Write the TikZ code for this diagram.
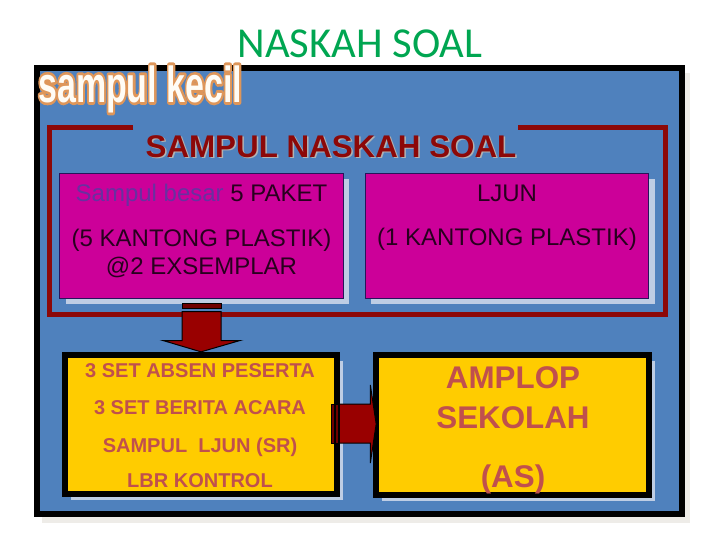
\documentclass[tikz,border=0pt]{standalone}
\usepackage{fontspec}
\setmainfont{Liberation Sans}
\newfontfamily\titlefont{Carlito}
\usetikzlibrary{calc,shadows}

\definecolor{titlegreen}{RGB}{0,166,81}
\definecolor{frameblue}{RGB}{79,129,189}
\definecolor{framegrey}{RGB}{238,236,232}
\definecolor{bracketred}{RGB}{140,8,8}
\definecolor{magfill}{RGB}{204,0,153}
\definecolor{magline}{RGB}{40,20,90}
\definecolor{shadowblue}{RGB}{190,205,228}
\definecolor{goldfill}{RGB}{255,204,0}
\definecolor{boxbrown}{RGB}{192,80,77}
\definecolor{boxdark}{RGB}{40,0,30}
\definecolor{besarpurple}{RGB}{105,48,160}
\definecolor{arrowred}{RGB}{153,0,0}
\definecolor{stripered}{RGB}{110,0,0}
\definecolor{kecilwhite}{RGB}{255,252,245}

% outlined word: thick stroke under, plain fill over
\newcommand{\kecilfont}{\fontsize{38}{40}\selectfont\bfseries}
\newcommand{\kecilrim}{\scalebox{0.67}[1]{\kecilfont
  \special{pdf:literal direct 2 Tr 4.2 w 1 j 0.871 0.588 0.353 RG}sampul kecil\special{pdf:literal direct 0 Tr 1 w 0 j}}}
\newcommand{\kecilword}{\scalebox{0.67}[1]{\kecilfont sampul kecil}}

\begin{document}
\begin{tikzpicture}[x=0.75pt,y=0.75pt,yscale=-1,xscale=1,
  magbox/.style={draw=magline, line width=0.75pt, fill=magfill, inner sep=0pt,
    minimum width=212.6pt, minimum height=93.75pt,
    drop shadow={shadow xshift=4.5pt, shadow yshift=-4.5pt, fill=shadowblue, opacity=1}},
  goldbox/.style={draw=black, line width=4.5pt, fill=goldfill, inner sep=0pt,
    minimum width=204.5pt, minimum height=104.5pt,
    drop shadow={shadow xshift=4.5pt, shadow yshift=-4.5pt, fill=shadowblue, opacity=1}},
  magtext/.style={anchor=base, inner sep=0pt, text=boxdark, font=\fontsize{18}{20}\selectfont},
  absentext/.style={anchor=base, inner sep=0pt, text=boxbrown, font=\fontsize{15}{17}\selectfont\bfseries},
  amploptext/.style={anchor=base, inner sep=0pt, text=boxbrown, font=\fontsize{23.5}{26}\selectfont\bfseries},
  headtext/.style={anchor=base, inner sep=0pt, font=\fontsize{23.5}{26}\selectfont\bfseries},
  blockarrow/.style={draw=black, line width=0.75pt, fill=arrowred, line join=miter},
  blockstripe/.style={draw=black, line width=0.75pt, fill=stripered}]
\useasboundingbox (0,0) rectangle (720,540);
\fill[white] (0,0) rectangle (720,540);

% Title
\node[anchor=base, inner sep=0pt, text=titlegreen, font=\titlefont\fontsize{32}{34}\selectfont] (title) at (360,57.5) {NASKAH SOAL};

%Outer frame with its shadow
\fill[framegrey] (42,73) rectangle (690,523);
\draw[line width=4.5pt, fill=frameblue] (37,68) rectangle (682,514);

% Text Node
\node[anchor=base west, inner sep=0pt, text=kecilwhite] (kecilrim) at (38,102) {\kecilrim};
\node[anchor=base west, inner sep=0pt, text=kecilwhite] (kecil) at (38,102) {\kecilword};

%Open bracket round the sampul naskah
\draw[bracketred, line width=3.75pt] (133,127) -- (49,127) -- (49,314) -- (665,314) -- (665,127) -- (518,127);

% Text Node
\node[headtext, text=black!30] (headshadow) at (332.5,158.5) {SAMPUL NASKAH SOAL};
\node[headtext, text=bracketred] (head) at (331,157) {SAMPUL NASKAH SOAL};

%Magenta boxes
\node[magbox] (paket) at (201.5,235.5) {};
\node[magbox] (ljun) at (507,235.5) {};
\node[magtext] (paket1) at (201.5,201.5) {{\color{besarpurple}Sampul besar} 5 PAKET};
\node[magtext] (paket2) at (201.5,246.5) {(5 KANTONG PLASTIK)};
\node[magtext] (paket3) at (201.5,274.5) {@2 EXSEMPLAR};
\node[magtext] (ljun1) at (507,201.5) {LJUN};
\node[magtext] (ljun2) at (507,245.5) {(1 KANTONG PLASTIK)};

%Yellow boxes
\node[goldbox] (absen) at (201,424.5) {};
\node[goldbox] (amplop) at (512.5,425) {};
\node[absentext] (absen1) at (200,377) {3 SET ABSEN PESERTA};
\node[absentext] (absen2) at (200,414) {3 SET BERITA ACARA};
\node[absentext] (absen3) at (200,452) {SAMPUL\ \ LJUN (SR)};
\node[absentext] (absen4) at (200,487) {LBR KONTROL};
\node[amploptext] (amplop1) at (513,388) {AMPLOP};
\node[amploptext] (amplop2) at (513,428) {SEKOLAH};
\node[amploptext] (amplop3) at (513,487) {(AS)};

%Striped block arrow down
\draw[blockstripe] ($(paket.south)+(-19.5,5)$) rectangle ++(39,5);
\draw[blockarrow] ($(paket.south)+(-19.5,13)$) -- ++(39,0) -- ++(0,29) -- ++(19,0) -- (absen.north)
  -- ($(paket.south)+(-38.5,42)$) -- ++(19,0) -- cycle;

%Striped block arrow right
\draw[blockstripe] ($(absen.east)+(-9,-20.5)$) rectangle ++(3,39);
\draw[blockstripe] ($(absen.east)+(-5,-20.5)$) rectangle ++(3,39);
\draw[blockarrow] ($(absen.east)+(-1,-20.5)$) -- ++(31,0) -- ++(0,-19) -- ($(amplop.west)+(3,-1)$)
  -- ($(absen.east)+(30,38.5)$) -- ++(0,-20) -- ++(-31,0) -- cycle;
\end{tikzpicture}
\end{document}
